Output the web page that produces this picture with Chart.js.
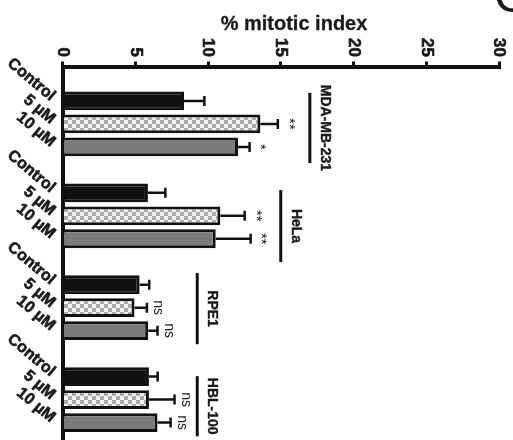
<!DOCTYPE html>
<html><head><meta charset="utf-8">
<script src="https://cdn.jsdelivr.net/npm/chart.js@4"></script>
<style>html,body{margin:0;padding:0;overflow:hidden;background:#fff}canvas{display:block}</style>
</head><body>
<canvas id="c" width="513" height="457"></canvas>
<script>
// ---------- data ----------
const cellLines = ["MDA-MB-231", "HeLa", "RPE1", "HBL-100"];
const doses = ["Control", "5 µM", "10 µM"];
const controlValues = [8.35, 5.87, 5.30, 5.94];
const dose5Values   = [13.6, 10.85, 4.95, 5.94];
const dose10Values  = [12.06, 10.53, 5.89, 6.53];
const controlErr = [1.4, 1.2, 0.66, 0.6];
const dose5Err   = [1.2, 1.67, 0.85, 1.76];
const dose10Err  = [0.8, 2.4, 0.64, 0.9];
const dose5Sig  = ["**", "**", "ns", "ns"];
const dose10Sig = ["*", "**", "ns", "ns"];
const xTickValues = [0, 5, 10, 15, 20, 25, 30];
const axisTitle = "% mitotic index";
const panelLabel = "C";

// ---------- annotation layout (axis units / category index units) ----------
const bracketX = [17, 15, 9.26, 9.26];
const bracketSpan = [[0.65, 3.70], [4.88, 8.01], [8.49, 11.59], [12.98, 15.6]];

// ---------- build slots ----------
const values = [controlValues, dose5Values, dose10Values];
const errs = [controlErr, dose5Err, dose10Err];
const sigs = [null, dose5Sig, dose10Sig];
const slotLabels = [];
cellLines.forEach(() => { slotLabels.push(""); doses.forEach(d => slotLabels.push(d)); });
slotLabels.push("");
const slotIndex = (g, d) => 4 * g + 1 + d;
const datasetsData = doses.map((d, di) => {
  const arr = slotLabels.map(() => null);
  cellLines.forEach((c, g) => { arr[slotIndex(g, di)] = values[di][g]; });
  return arr;
});

// checkered pattern
const tile = document.createElement('canvas');
tile.width = 8; tile.height = 8;
const tc = tile.getContext('2d');
tc.fillStyle = '#f2f2f2'; tc.fillRect(0, 0, 8, 8);
tc.fillStyle = '#ababab'; tc.fillRect(0, 0, 4, 4); tc.fillRect(4, 4, 4, 4);
const ctx0 = document.getElementById('c').getContext('2d');
const checker = ctx0.createPattern(tile, 'repeat');
const fills = ['#111111', checker, '#7b7b7b'];

const FONT = '"Liberation Sans", Arial, sans-serif';
const TXT = '#1a1a1a';

function heavyText(ctx, s, w) {
  ctx.fillText(s, 0, 0);
  ctx.lineWidth = w;
  ctx.strokeStyle = TXT;
  ctx.strokeText(s, 0, 0);
}

const overlay = {
  id: 'overlay',
  afterDatasetsDraw(chart) {
    const { ctx, scales: { x, y } } = chart;
    ctx.save();
    ctx.fillStyle = TXT;
    // error bars + significance
    cellLines.forEach((c, g) => {
      doses.forEach((d, di) => {
        const bar = chart.getDatasetMeta(di).data[slotIndex(g, di)];
        const yc = bar.y;
        const v = values[di][g], e = errs[di][g];
        const x0 = x.getPixelForValue(v), x1 = x.getPixelForValue(v + e);
        ctx.strokeStyle = '#111';
        ctx.lineWidth = 2.5;
        ctx.beginPath();
        ctx.moveTo(x0, yc); ctx.lineTo(x1, yc);
        ctx.moveTo(x1, yc - 5); ctx.lineTo(x1, yc + 5);
        ctx.stroke();
        if (sigs[di]) {
          const s = sigs[di][g];
          ctx.save();
          ctx.translate(x1 + 11, yc);
          ctx.rotate(Math.PI / 2);
          ctx.textAlign = 'center'; ctx.textBaseline = 'middle';
          ctx.font = (s === 'ns' ? '14px ' : '15px ') + FONT;
          ctx.fillText(s, 0, 0);
          ctx.restore();
        }
      });
      // bracket + group label
      const bx = x.getPixelForValue(bracketX[g]);
      const y0 = y.getPixelForValue(bracketSpan[g][0]);
      const y1 = y.getPixelForValue(bracketSpan[g][1]);
      ctx.strokeStyle = '#111';
      ctx.lineWidth = 3;
      ctx.beginPath(); ctx.moveTo(bx, y0); ctx.lineTo(bx, y1); ctx.stroke();
      ctx.save();
      ctx.translate(bx + 15, (y0 + y1) / 2);
      ctx.rotate(Math.PI / 2);
      ctx.textAlign = 'center'; ctx.textBaseline = 'middle';
      ctx.font = 'bold 14px ' + FONT;
      heavyText(ctx, c, 0.4);
      ctx.restore();
    });
    // category labels (rotated)
    ctx.font = 'bold 16px ' + FONT;
    slotLabels.forEach((lab, i) => {
      if (!lab) return;
      const yc = y.getPixelForValue(i);
      ctx.save();
      ctx.translate(53, yc - 3);
      ctx.rotate(40 * Math.PI / 180);
      ctx.textAlign = 'right'; ctx.textBaseline = 'middle';
      heavyText(ctx, lab, 0.6);
      ctx.restore();
    });
    // x tick labels (rotated)
    ctx.font = 'bold 17px ' + FONT;
    x.ticks.forEach(t => {
      const px = x.getPixelForValue(t.value);
      ctx.save();
      ctx.translate(px, 57);
      ctx.rotate(Math.PI / 2);
      ctx.textAlign = 'right'; ctx.textBaseline = 'middle';
      heavyText(ctx, String(t.value), 0.6);
      ctx.restore();
    });
    // axis title
    ctx.save();
    ctx.font = 'bold 20px ' + FONT;
    ctx.textAlign = 'center'; ctx.textBaseline = 'middle';
    ctx.translate(294, 24);
    heavyText(ctx, axisTitle, 0.3);
    ctx.restore();
    // panel label
    ctx.font = '48px ' + FONT;
    ctx.textAlign = 'left'; ctx.textBaseline = 'alphabetic';
    ctx.fillText(panelLabel, 494, 12);
    ctx.restore();
  }
};

new Chart(ctx0, {
  type: 'bar',
  data: {
    labels: slotLabels,
    datasets: doses.map((d, di) => ({
      label: d,
      data: datasetsData[di],
      backgroundColor: fills[di],
      borderColor: '#111',
      borderWidth: 3,
      skipNull: true,
      categoryPercentage: 1,
      barPercentage: 0.82
    }))
  },
  options: {
    indexAxis: 'y',
    responsive: false,
    animation: false,
    layout: { padding: { left: 0, right: 14, top: 0, bottom: 0 } },
    plugins: { legend: { display: false }, tooltip: { enabled: false }, title: { display: false } },
    scales: {
      x: {
        position: 'top',
        min: 0, max: 30,
        afterBuildTicks: s => { s.ticks = xTickValues.map(v => ({ value: v })); },
        afterFit: s => { s.height = 66.5; },
        ticks: { display: false },
        grid: { display: true, drawOnChartArea: false, drawTicks: true, tickLength: 5, color: '#111', lineWidth: 3 },
        border: { display: true, color: '#111', width: 4 }
      },
      y: {
        z: 1,
        afterFit: s => { s.width = 62.5; },
        ticks: { display: false },
        grid: { display: false },
        border: { display: true, color: '#111', width: 4 }
      }
    }
  },
  plugins: [overlay]
});
</script>
</body></html>
